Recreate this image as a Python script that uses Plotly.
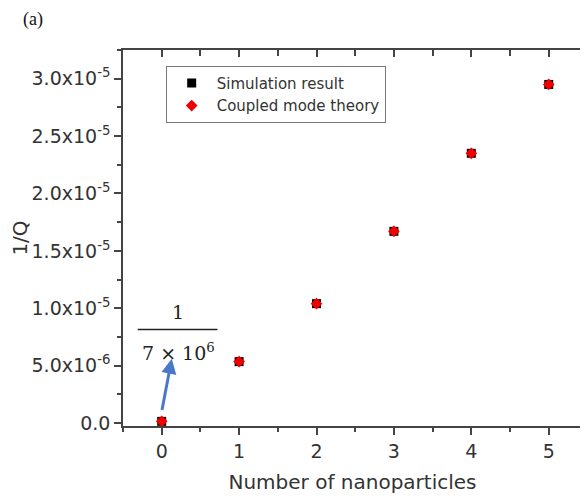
import plotly.graph_objects as go

n_particles = [0, 1, 2, 3, 4, 5]
sim_result = [1.43e-7, 5.35e-6, 1.04e-5, 1.67e-5, 2.35e-5, 2.95e-5]
cmt_result = [1.43e-7, 5.35e-6, 1.04e-5, 1.67e-5, 2.35e-5, 2.95e-5]
y_tickvals = [0, 5e-6, 1e-5, 1.5e-5, 2e-5, 2.5e-5, 3e-5]
y_ticktext = ["0.0", "5.0x10<sup>-6</sup>", "1.0x10<sup>-5</sup>", "1.5x10<sup>-5</sup>",
              "2.0x10<sup>-5</sup>", "2.5x10<sup>-5</sup>", "3.0x10<sup>-5</sup>"]
y_minor = [2.5e-6, 7.5e-6, 1.25e-5, 1.75e-5, 2.25e-5, 2.75e-5, 3.25e-5]
x_tickvals = [0, 1, 2, 3, 4, 5]

axc = "#444444"
txtc = "#333333"
sans = "DejaVu Sans, sans-serif"
serif = "DejaVu Serif, serif"
xr = [-0.5, 5.43]
yr = [-2.6e-7, 3.25e-5]

fig = go.Figure()
fig.add_trace(go.Scatter(x=n_particles, y=sim_result, mode="markers", name="Simulation result",
                         marker=dict(symbol="square", size=9, color="black")))
fig.add_trace(go.Scatter(x=n_particles, y=cmt_result, mode="markers", name="Coupled mode theory",
                         marker=dict(symbol="diamond", size=9, color="#ee0000")))
fig.add_trace(go.Scatter(x=[None], y=[None], xaxis="x2", yaxis="y2", showlegend=False, hoverinfo="skip"))

common = dict(showgrid=False, zeroline=False, automargin=False, showline=True,
              linecolor=axc, linewidth=1.5, tickcolor=axc, tickwidth=1.5)

fig.update_layout(
    template="none",
    width=580, height=493,
    margin=dict(l=115, r=6, t=42, b=75, autoexpand=False),
    paper_bgcolor="white", plot_bgcolor="white",
    font=dict(family=sans, color=txtc),
    showlegend=True,
    legend=dict(x=0.093, y=0.958, xanchor="left", yanchor="top",
                bordercolor="#777777", borderwidth=1, bgcolor="white",
                font=dict(size=15, color=txtc, family=sans), tracegroupgap=0,
                itemwidth=40),
    xaxis=dict(range=xr, tickvals=x_tickvals, ticks="outside", ticklen=7,
               tickfont=dict(size=19, color=txtc, family=sans),
               minor=dict(dtick=0.5, ticks="outside", ticklen=4, tickwidth=1.5, tickcolor=axc, showgrid=False),
               title=dict(text="Number of nanoparticles", font=dict(size=20, color=txtc, family=sans), standoff=14),
               **common),
    yaxis=dict(range=yr, tickvals=y_tickvals, ticktext=y_ticktext, ticks="outside", ticklen=7,
               tickfont=dict(size=19, color=txtc, family=sans),
               minor=dict(tickvals=y_minor, ticks="outside", ticklen=4, tickwidth=1.5, tickcolor=axc, showgrid=False),
               title=dict(text="1/Q", font=dict(size=20, color=txtc, family=sans), standoff=5),
               **common),
    xaxis2=dict(overlaying="x", side="top", range=xr, tickvals=x_tickvals, ticks="inside",
                ticklen=7, showticklabels=False,
                minor=dict(dtick=0.5, ticks="inside", ticklen=6, tickwidth=1.5, tickcolor=axc, showgrid=False),
                **common),
    yaxis2=dict(overlaying="y", side="right", range=yr, tickvals=y_tickvals, ticks="outside",
                ticklen=6, showticklabels=False,
                minor=dict(tickvals=y_minor, ticks="outside", ticklen=4, tickwidth=1.5, tickcolor=axc, showgrid=False),
                **common),
)

fig.add_annotation(x=0.21, y=0.97e-5, xref="x", yref="y", text="1", showarrow=False,
                   font=dict(family=serif, size=19, color="#222222"))
fig.add_annotation(x=0.22, y=0.62e-5, xref="x", yref="y", text="7 × 10<sup>6</sup>", showarrow=False,
                   font=dict(family=serif, size=19, color="#222222"))
fig.add_shape(type="line", x0=-0.31, x1=0.72, y0=0.815e-5, y1=0.815e-5, xref="x", yref="y",
              line=dict(color="#222222", width=1.5))
fig.add_annotation(x=0.13, y=0.56e-5, ax=0.0, ay=0.1e-5, xref="x", yref="y", axref="x", ayref="y",
                   text="", showarrow=True, arrowhead=2, arrowsize=1, arrowwidth=3, arrowcolor="#4a78c8")
fig.add_annotation(x=-0.196, y=1.080, xref="paper", yref="paper", xanchor="center", yanchor="middle",
                   text="(a)", showarrow=False,
                   font=dict(family="Liberation Serif, serif", size=18, color="#111111"))

fig.write_html("out.html")
